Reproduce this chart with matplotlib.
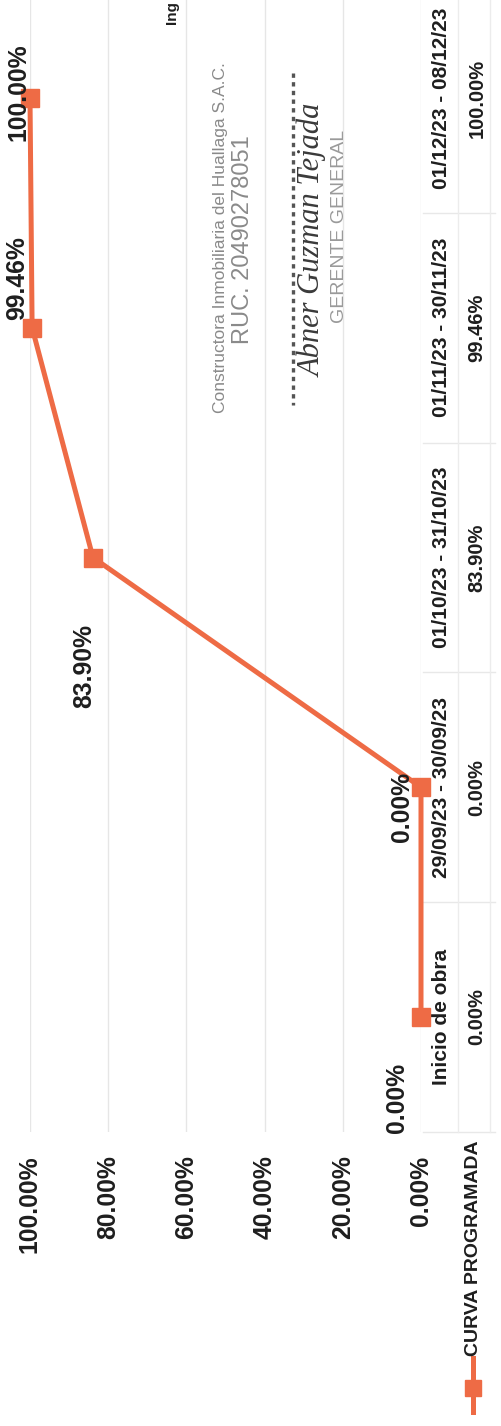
import matplotlib.pyplot as plt
from matplotlib.ticker import PercentFormatter
from matplotlib.lines import Line2D

# datos de la curva S (avance programado acumulado)
categorias = ["Inicio de obra", "29/09/23 - 30/09/23", "01/10/23 - 31/10/23",
              "01/11/23 - 30/11/23", "01/12/23 - 08/12/23"]
avance = [0.00, 0.00, 83.90, 99.46, 100.00]
ticks_valor = [0, 20, 40, 60, 80, 100]
serie = "CURVA PROGRAMADA"

plt.rcParams['font.family'] = ['Liberation Sans', 'DejaVu Sans']

naranja = '#EE6B45'
negro = '#1e1e1e'

W, H = 501, 1426
fig = plt.figure(figsize=(W / 100, H / 100), dpi=100)

# el grafico esta girado 90 grados: valores en horizontal, categorias en vertical
paso = 229.75
y_inicio = 1017
abajo = H - (y_inicio + paso / 2)
ax = fig.add_axes([30 / W, abajo / H, 391 / W, paso * len(categorias) / H])

pos = list(range(len(categorias)))
ax.plot(avance, pos, color=naranja, lw=3.6, marker='s', ms=13, zorder=3,
        clip_on=False)

ax.set_xlim(100, 0)
ax.set_ylim(-0.5, len(categorias) - 0.5)
ax.set_xticks(ticks_valor)
ax.xaxis.set_major_formatter(PercentFormatter(decimals=2))
ax.tick_params(axis='x', length=0, pad=17, labelrotation=90, labelsize=17.8,
               labelcolor=negro)
for t in ax.get_xticklabels():
    t.set_fontweight('bold')
ax.grid(axis='x', color='#e6e6e6', lw=1)
for s in ax.spines.values():
    s.set_visible(False)

# etiquetas de categoria (fila de encabezado de la tabla de datos)
ax.set_yticks(pos, categorias)
ax.yaxis.tick_right()
ax.tick_params(axis='y', length=0, pad=8, labelrotation=90, labelsize=15,
               labelcolor=negro)
for t in ax.get_yticklabels():
    t.set_fontweight('bold')
    t.set_va('center')

# etiquetas de datos
desplaz = [(-17, -58), (-14, -14), (-6, -78), (-11, 36), (-8, 4)]
for v, p, d in zip(avance, pos, desplaz):
    ax.annotate(f"{v:.2f}%", (v, p), xytext=d, textcoords='offset points',
                rotation=90, ha='center', va='center', fontsize=17.8,
                fontweight='bold', color=negro, zorder=4)

# tabla de datos
tr = ax.get_yaxis_transform()
for v, p in zip(avance, pos):
    ax.text(1.1432, p, f"{v:.2f}%", transform=tr, rotation=90, ha='center',
            va='center', fontsize=14.5, fontweight='bold', color=negro,
            clip_on=False)
for k in range(len(categorias) + 1):
    ax.plot([1.005, 1.19], [k - 0.5, k - 0.5], transform=tr, color='#e8e8e8',
            lw=1, clip_on=False)
for xc in (1.0946, 1.176):
    ax.plot([xc, xc], [-0.5, len(categorias) - 0.5], transform=tr,
            color='#ececec', lw=1, clip_on=False)

# leyenda (clave de la tabla)
fig.text(474 / W, 1 - 1140 / H, serie, rotation=90, ha='center', va='top',
         fontsize=14, fontweight='bold', color=negro)
fig.add_artist(Line2D([473 / W, 473 / W], [1 - 1358 / H, 1 - 1412 / H],
                      transform=fig.transFigure, color=naranja, lw=3.6))
fig.add_artist(Line2D([473 / W], [1 - 1388 / H], transform=fig.transFigure,
                      color=naranja, marker='s', ms=11, ls='none'))

# sello y firma
fig.text(221 / W, 1 - 238 / H, "Constructora Inmobiliaria del Huallaga S.A.C.",
         rotation=90, ha='center', va='center', fontsize=12.5, color='#8a8a8a',
         family=['Liberation Sans Narrow', 'Liberation Sans'])
fig.text(243 / W, 1 - 240 / H, "RUC. 20490278051", rotation=90, ha='center',
         va='center', fontsize=17, color='#8a8a8a')
fig.add_artist(Line2D([293 / W, 293 / W], [1 - 73 / H, 1 - 405 / H],
                      transform=fig.transFigure, color='#555555', lw=2.4,
                      ls=(0, (1.3, 1.3))))
fig.text(313 / W, 1 - 240 / H, "Abner Guzman Tejada", rotation=90, ha='center',
         va='center', fontsize=22, color='#3a3a3a', style='italic',
         family=['Liberation Serif', 'DejaVu Serif'])
fig.text(339 / W, 1 - 226 / H, "GERENTE GENERAL", rotation=90, ha='center',
         va='center', fontsize=14, color='#9a9a9a')
fig.text(172 / W, 1 - 1 / H, "Ing", rotation=90, ha='center', va='top',
         fontsize=11, fontweight='bold', color=negro)

fig.savefig('out.png', dpi=100)
